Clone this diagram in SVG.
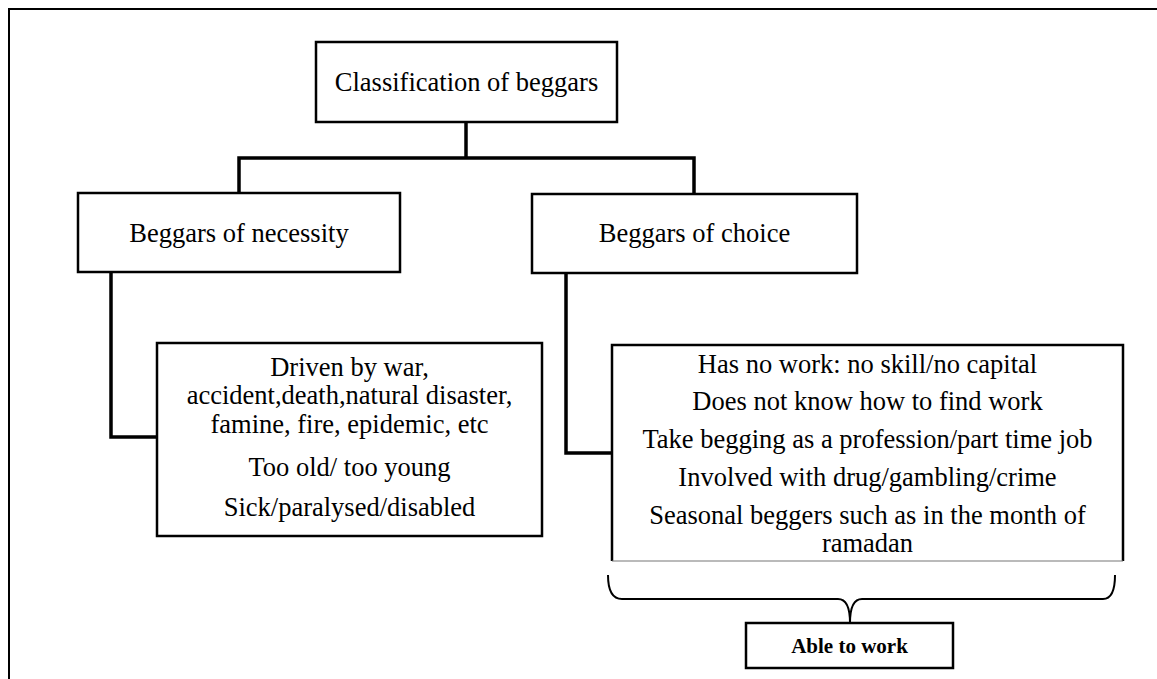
<svg xmlns="http://www.w3.org/2000/svg" width="1157" height="679" viewBox="0 0 1157 679">
<style>
.box{fill:#fff;stroke:#000;stroke-width:2.5}
.conn{fill:none;stroke:#000;stroke-width:3.5}
.t{font-family:"Liberation Serif","Times New Roman",serif;font-size:26.5px;fill:#000;text-anchor:middle}
.b{font-family:"Liberation Serif","Times New Roman",serif;font-size:21px;font-weight:bold;fill:#000;text-anchor:middle}
</style>
<rect width="1157" height="679" fill="#fff"/>
<path d="M9,679 V9 H1157" fill="none" stroke="#000" stroke-width="2"/>
<g id="connectors">
<path class="conn" d="M466,122 V158"/>
<path class="conn" d="M239,193 V158 H694 V194"/>
<path class="conn" d="M111,272 V437 H157"/>
<path class="conn" d="M566,273 V453 H612"/>
<path d="M608,575 Q608,599 622,599 H838 Q850,599 850,623 Q850,599 862,599 H1103 Q1115,599 1115,575" fill="none" stroke="#000" stroke-width="2"/>
</g>
<g id="root">
<rect class="box" x="316" y="42" width="301" height="80"/>
<text class="t" x="466.5" y="91">Classification of beggars</text>
</g>
<g id="necessity">
<rect class="box" x="78" y="193" width="322" height="79"/>
<text class="t" x="239" y="242">Beggars of necessity</text>
</g>
<g id="choice">
<rect class="box" x="532" y="194" width="325" height="79"/>
<text class="t" x="694.5" y="242">Beggars of choice</text>
</g>
<g id="necessity-details">
<rect class="box" x="157" y="343" width="385" height="193"/>
<text class="t" x="349.5" y="376">Driven by war,</text>
<text class="t" x="349.5" y="404">accident,death,natural disaster,</text>
<text class="t" x="349.5" y="433">famine, fire, epidemic, etc</text>
<text class="t" x="349.5" y="476">Too old/ too young</text>
<text class="t" x="349.5" y="516">Sick/paralysed/disabled</text>
</g>
<g id="choice-details">
<path d="M612,561 V345 H1123 V561" fill="#fff" stroke="#000" stroke-width="2.5"/>
<path d="M612,561 H1123" stroke="#777" stroke-width="1.2"/>
<text class="t" x="867.5" y="373">Has no work: no skill/no capital</text>
<text class="t" x="867.5" y="410">Does not know how to find work</text>
<text class="t" x="867.5" y="448">Take begging as a profession/part time job</text>
<text class="t" x="867.5" y="486">Involved with drug/gambling/crime</text>
<text class="t" x="867.5" y="524">Seasonal beggers such as in the month of</text>
<text class="t" x="867.5" y="552">ramadan</text>
</g>
<g id="able">
<rect class="box" x="746" y="623" width="207" height="45" stroke-width="2"/>
<text class="b" x="849.5" y="653">Able to work</text>
</g>
</svg>
